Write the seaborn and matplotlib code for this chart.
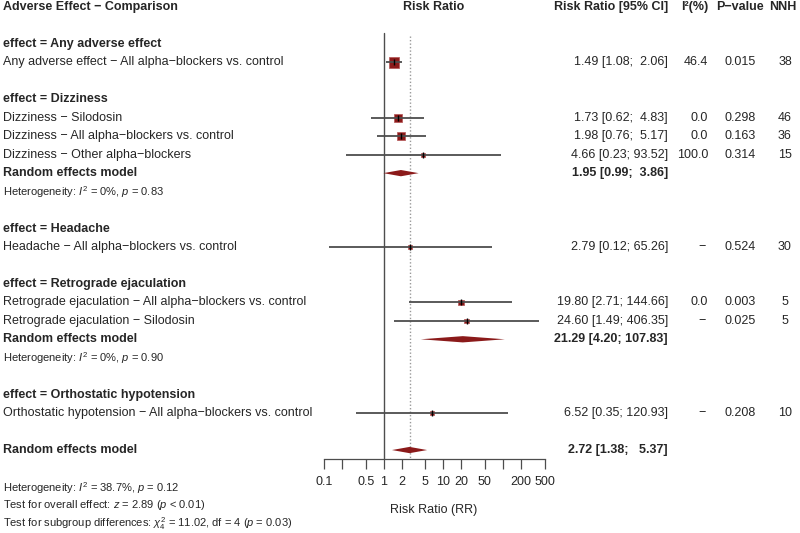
# forest plot: adverse effects of alpha-blockers (risk ratio, random effects)
import numpy as np
import matplotlib
matplotlib.use('Agg')
import matplotlib.pyplot as plt
from matplotlib.transforms import blended_transform_factory
import seaborn as sns

# data
groups = ['Any adverse effect', 'Dizziness', 'Headache',
          'Retrograde ejaculation', 'Orthostatic hypotension']

study_group = [0, 1, 1, 1, 2, 3, 3, 4]
study_comparison = ['All alpha−blockers vs. control', 'Silodosin',
                    'All alpha−blockers vs. control', 'Other alpha−blockers',
                    'All alpha−blockers vs. control',
                    'All alpha−blockers vs. control', 'Silodosin',
                    'All alpha−blockers vs. control']
study_rr = [1.49, 1.73, 1.98, 4.66, 2.79, 19.80, 24.60, 6.52]
study_lo = [1.08, 0.62, 0.76, 0.23, 0.12, 2.71, 1.49, 0.35]
study_hi = [2.06, 4.83, 5.17, 93.52, 65.26, 144.66, 406.35, 120.93]
study_i2 = [46.4, 0.0, 0.0, 100.0, None, 0.0, None, None]
study_p = [0.015, 0.298, 0.163, 0.314, 0.524, 0.003, 0.025, 0.208]
study_nnh = [38, 46, 36, 15, 30, 5, 5, 10]
study_weight = [100, 60, 60, 15, 15, 27, 17, 17]   # relative weights (estimated)

# subgroup random effects models (groups with more than one comparison)
sub_group = [1, 3]
sub_rr = [1.95, 21.29]
sub_lo = [0.99, 4.20]
sub_hi = [3.86, 107.83]
sub_i2 = ['0%', '0%']
sub_phet = [0.83, 0.90]

# overall model
overall_rr, overall_lo, overall_hi = 2.72, 1.38, 5.37
overall_i2, overall_phet = '38.7%', 0.12
overall_z, overall_pz = 2.89, '< 0.01'
subgroup_q, subgroup_df, subgroup_p = 11.02, 4, 0.03

x_ticks = [0.1, 0.2, 0.5, 1, 2, 5, 10, 20, 50, 100, 200, 500]
x_ticklabels = ['0.1', '', '0.5', '1', '2', '5', '10', '20', '50', '', '200', '500']

# style
sns.set_style('white')
plt.rcParams['font.family'] = ['Liberation Sans', 'DejaVu Sans']
plt.rcParams['mathtext.fontset'] = 'custom'
plt.rcParams['mathtext.rm'] = 'Liberation Sans'
plt.rcParams['mathtext.it'] = 'Liberation Sans:italic'
plt.rcParams['mathtext.bf'] = 'Liberation Sans:bold'

RED = '#8B1A1A'
LINE = '#4d4d4d'
FS = 9
FS_SMALL = 8

# layout: walk the groups and give every line a row
row = 2
group_row, study_row, sub_row = {}, [None] * len(study_rr), {}
for g in range(len(groups)):
    group_row[g] = row
    row += 1
    for i, sg in enumerate(study_group):
        if sg == g:
            study_row[i] = row
            row += 1
    if g in sub_group:
        sub_row[g] = row
        row += 2
    row += 1
overall_row = row

# figure: one axes over the forest column, rows as y data
fig = plt.figure(figsize=(8, 5.33), dpi=100)
ax = fig.add_axes([324 / 800, 0, (544.5 - 324) / 800, 1])
ax.set_xscale('log')
ax.set_xlim(0.1, 500)
row_px = 18.46
ax.set_ylim((533 - 7) / row_px, -7 / row_px)
ax.patch.set_alpha(0)

for s in ['top', 'right', 'left']:
    ax.spines[s].set_visible(False)
ax.spines['bottom'].set_position(('data', 24.5))
ax.spines['bottom'].set_color(LINE)
ax.spines['bottom'].set_linewidth(0.9)
ax.set_yticks([])
ax.set_xticks(x_ticks)
ax.set_xticklabels(x_ticklabels)
ax.xaxis.set_minor_locator(matplotlib.ticker.NullLocator())
ax.tick_params(axis='x', direction='out', length=7, width=0.9, color=LINE,
               labelsize=FS, pad=5, bottom=True)

# reference lines
ax.plot([1, 1], [1.41, 24.5], color=LINE, lw=1, zorder=1)
ax.plot([overall_rr, overall_rr], [1.57, 24.5], color='#999999', lw=1,
        ls=(0, (1, 1.5)), zorder=1)

# study squares and CIs
sizes = [(10.5 * 0.72) ** 2 * w / 100 for w in study_weight]
sns.scatterplot(x=study_rr, y=study_row, marker='s', s=sizes, color=RED,
                edgecolor='#b55555', linewidth=0.5, zorder=3, ax=ax, legend=False)
ax.hlines(study_row, study_lo, study_hi, color=LINE, lw=1.3, zorder=4)
ax.plot(study_rr, study_row, ls='none', marker='|', ms=4.5, mew=1,
        color='black', zorder=5)


# diamonds
def diamond(rr, lo, hi, y, h=0.17):
    ax.fill([lo, rr, hi, rr], [y, y - h, y, y + h], color=RED, lw=0, zorder=3)


for k, g in enumerate(sub_group):
    diamond(sub_rr[k], sub_lo[k], sub_hi[k], sub_row[g])
diamond(overall_rr, overall_lo, overall_hi, overall_row)

# text columns
tr = blended_transform_factory(fig.transFigure, ax.transData)


def put(xpx, y, s, ha='left', **kw):
    kw.setdefault('fontsize', FS)
    ax.text(xpx / 800, y, s, ha=ha, va='center', transform=tr, clip_on=False, **kw)


def ci_text(rr, lo, hi, w=5):
    return f'{rr:.2f} [{lo:.2f}; {hi:{w}.2f}]'


# header
put(3, 0, 'Adverse Effect − Comparison', fontweight='bold')
put(434, 0, 'Risk Ratio', ha='center', fontweight='bold')
put(668, 0, 'Risk Ratio [95% CI]', ha='right', fontweight='bold')
put(708, 0, 'I²(%)', ha='right', fontweight='bold')
put(740, 0, 'P−value', ha='center', fontweight='bold')
put(783, 0, 'NNH', ha='center', fontweight='bold')

for g, name in enumerate(groups):
    put(3, group_row[g], f'effect = {name}', fontweight='bold')

for i in range(len(study_rr)):
    y = study_row[i]
    put(3, y, f'{groups[study_group[i]]} − {study_comparison[i]}')
    put(668, y, ci_text(study_rr[i], study_lo[i], study_hi[i]), ha='right')
    if study_i2[i] is None:
        put(706, y, '−', ha='right')
    else:
        put(708, y, f'{study_i2[i]:.1f}', ha='right')
    put(740, y, f'{study_p[i]:.3f}', ha='center')
    put(785, y, f'{study_nnh[i]}', ha='center')

for k, g in enumerate(sub_group):
    y = sub_row[g]
    put(3, y, 'Random effects model', fontweight='bold')
    put(668, y, ci_text(sub_rr[k], sub_lo[k], sub_hi[k]), ha='right', fontweight='bold')
    put(3, y + 1, f'Heterogeneity: $I^2$ = {sub_i2[k]}, $p$ = {sub_phet[k]:.2f}',
        fontsize=FS_SMALL)

put(3, overall_row, 'Random effects model', fontweight='bold')
put(668, overall_row, ci_text(overall_rr, overall_lo, overall_hi, w=6),
    ha='right', fontweight='bold')
put(3, overall_row + 2.05,
    f'Heterogeneity: $I^2$ = {overall_i2}, $p$ = {overall_phet:.2f}', fontsize=FS_SMALL)
put(3, overall_row + 3.0,
    f'Test for overall effect: $z$ = {overall_z:.2f} ($p$ {overall_pz})', fontsize=FS_SMALL)
put(3, overall_row + 4.0,
    f'Test for subgroup differences: $\\chi^2_{subgroup_df}$ = {subgroup_q:.2f}, '
    f'df = {subgroup_df} ($p$ = {subgroup_p:.2f})', fontsize=FS_SMALL)

fig.text(434 / 800, 1 - 510 / 533, 'Risk Ratio (RR)', ha='center', va='center',
         fontsize=FS)

plt.savefig('out.png', dpi=100)
